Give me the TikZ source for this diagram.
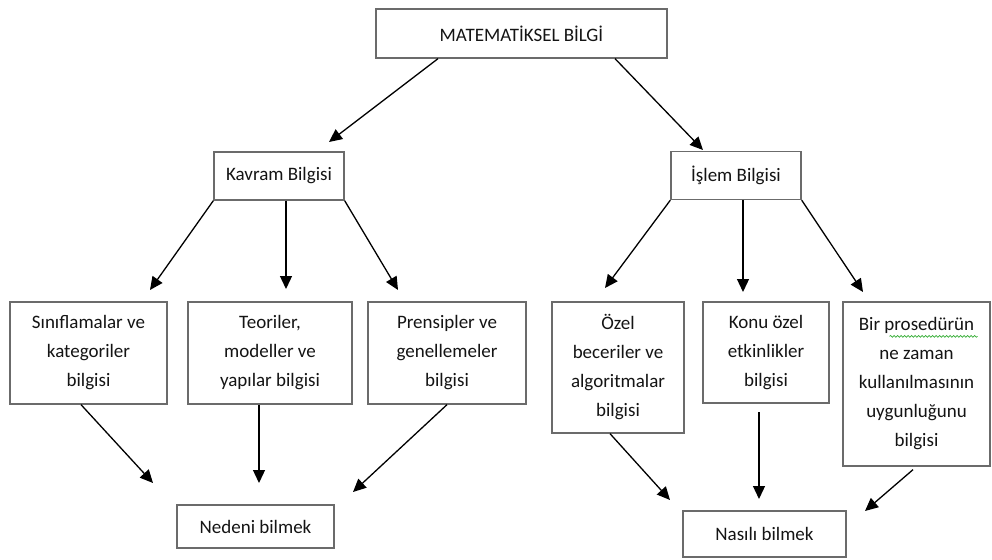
\documentclass[tikz,border=0pt]{standalone}
\usepackage{fontspec}
\setmainfont{Carlito}
\usetikzlibrary{arrows.meta,decorations.pathmorphing}
\begin{document}
\begin{tikzpicture}[x=1pt,y=-1pt,
  box/.style={draw=black!58, line width=1.3pt, fill=white, inner sep=0pt,
    align=center, text=black!92,
    font=\fontsize{19}{29}\selectfont},
  link/.style={line width=1.3pt, -{Triangle[length=13pt,width=12pt]}}]
\useasboundingbox (0,0) rectangle (992,559);

% boxes
\node[box, minimum width=291pt, minimum height=49pt] (top) at (521.5,33.5) {MATEMATİKSEL BİLGİ};
\node[box, minimum width=130pt, minimum height=48pt] (kavram) at (279,176) {Kavram Bilgisi};
\node[box, minimum width=130pt, minimum height=48pt] (islem) at (736,175.5) {İşlem Bilgisi};

\node[box, minimum width=157pt, minimum height=102pt] (sinif) at (88.5,353) {Sınıflamalar ve\\kategoriler\\bilgisi};
\node[box, minimum width=164pt, minimum height=102pt] (teori) at (270,353) {Teoriler,\\modeller ve\\yapılar bilgisi};
\node[box, minimum width=158pt, minimum height=102pt] (prens) at (447,353) {Prensipler ve\\genellemeler\\bilgisi};
\node[box, minimum width=132pt, minimum height=131pt] (ozel) at (618,367.5) {Özel\\beceriler ve\\algoritmalar\\bilgisi};
\node[box, minimum width=126pt, minimum height=101pt] (konu) at (766,352.5) {Konu özel\\etkinlikler\\bilgisi};
\node[box, minimum width=147pt, minimum height=164pt] (bir) at (916.5,384) {Bir prosedürün\\ne zaman\\kullanılmasının\\uygunluğunu\\bilgisi};

\node[box, minimum width=157pt, minimum height=43pt] (neden) at (255.5,526.5) {Nedeni bilmek};
\node[box, minimum width=163pt, minimum height=46pt] (nasil) at (764.5,534) {Nasılı bilmek};

% spelling underline under "prosedürün"
\draw[green!60!black!80, line width=0.7pt,
  decorate, decoration={snake, amplitude=0.9pt, segment length=3.5pt}]
  ([xshift=-27pt,yshift=-35pt]bir.north) -- ([xshift=61pt,yshift=-35pt]bir.north);

% arrow tips
\coordinate (tKavram) at (329,142);
\coordinate (tIslem) at (703,150);
\coordinate (tSinif) at (150,290);
\coordinate (tTeori) at (286,289);
\coordinate (tPrens) at (398,290);
\coordinate (tOzel) at (605,288);
\coordinate (tKonu) at (743,292);
\coordinate (tBir) at (863,292);
\coordinate (tN1) at (153,483);
\coordinate (tN2) at (259,483);
\coordinate (tN3) at (353,492);
\coordinate (tS1) at (670,500);
\coordinate (tS2) at (759,499);
\coordinate (tS3) at (865,511);
\coordinate (sKonu) at (759,412);

% connectors
\draw[link] ([xshift=-83.5pt]top.south) -- (tKavram);
\draw[link] ([xshift=93.5pt]top.south) -- (tIslem);

\draw[link] (kavram.south west) -- (tSinif);
\draw[link] ([xshift=7pt]kavram.south) -- (tTeori);
\draw[link] (kavram.south east) -- (tPrens);

\draw[link] (islem.south west) -- (tOzel);
\draw[link] ([xshift=7pt]islem.south) -- (tKonu);
\draw[link] (islem.south east) -- (tBir);

\draw[link] ([xshift=-7.5pt]sinif.south) -- (tN1);
\draw[link] ([xshift=-11pt]teori.south) -- (tN2);
\draw[link] (prens.south) -- (tN3);

\draw[link] ([xshift=-8pt]ozel.south) -- (tS1);
\draw[link] (sKonu) -- (tS2);
\draw[link] ([xshift=-3.5pt,yshift=-3pt]bir.south) -- (tS3);
\end{tikzpicture}
\end{document}
